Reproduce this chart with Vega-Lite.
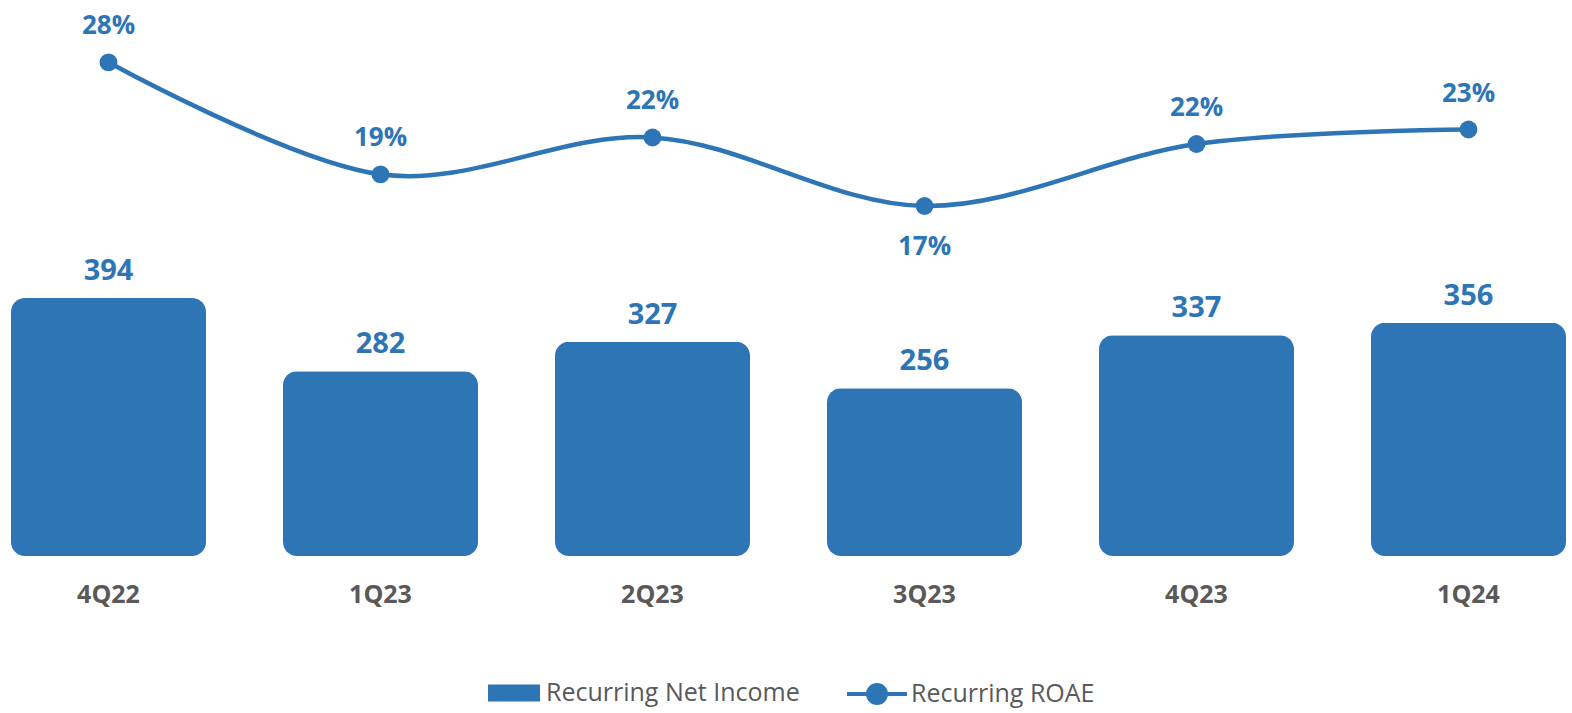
{
  "$schema": "https://vega.github.io/schema/vega-lite/v6.json",
  "width": 1572,
  "height": 556,
  "autosize": {"type": "none"},
  "padding": {"left": 0, "top": 0, "right": 0, "bottom": 157},
  "background": "white",
  "config": {
    "view": {"stroke": null},
    "font": "Open Sans"
  },
  "data": {
    "values": [
      {"quarter": "4Q22", "income": 394, "roae": 0.279},
      {"quarter": "1Q23", "income": 282, "roae": 0.194},
      {"quarter": "2Q23", "income": 327, "roae": 0.222},
      {"quarter": "3Q23", "income": 256, "roae": 0.170},
      {"quarter": "4Q23", "income": 337, "roae": 0.217},
      {"quarter": "1Q24", "income": 356, "roae": 0.228}
    ]
  },
  "encoding": {
    "x": {
      "field": "quarter",
      "type": "nominal",
      "sort": null,
      "scale": {"paddingInner": 0.283, "paddingOuter": 0.03125, "align": 0.647},
      "axis": {
        "title": null,
        "domain": false,
        "ticks": false,
        "labelAngle": 0,
        "labelFont": "Open Sans",
        "labelFontSize": 25,
        "labelFontWeight": "bold",
        "labelColor": "#595959",
        "labelPadding": 26
      }
    }
  },
  "layer": [
    {
      "mark": {"type": "bar", "cornerRadius": 14},
      "encoding": {
        "y": {
          "field": "income",
          "type": "quantitative",
          "scale": {"domain": [0, 849], "nice": false},
          "axis": null
        },
        "fill": {
          "datum": "Recurring Net Income",
          "type": "nominal",
          "scale": {"range": ["#2E75B6"]},
          "legend": {
            "title": null,
            "orient": "none",
            "legendX": 488,
            "legendY": 667,
            "padding": 0,
            "symbolType": "M-1,-0.33H1V0.33H-1Z",
            "symbolSize": 2704,
            "symbolStrokeWidth": 0,
            "labelFont": "Open Sans",
            "labelFontSize": 25,
            "labelColor": "#595959",
            "labelOffset": 6,
            "labelLimit": 0
          }
        }
      }
    },
    {
      "mark": {"type": "text", "font": "Open Sans", "fontSize": 29, "fontWeight": "bold", "color": "#2E75B6", "baseline": "bottom", "dy": -12},
      "encoding": {
        "y": {"field": "income", "type": "quantitative", "scale": {"domain": [0, 849], "nice": false}, "axis": null},
        "text": {"field": "income", "type": "quantitative"}
      }
    },
    {
      "mark": {"type": "line", "interpolate": "cardinal", "strokeWidth": 4.5},
      "encoding": {
        "y": {
          "field": "roae",
          "type": "quantitative",
          "scale": {"domain": [-0.0956, 0.3263], "nice": false, "zero": false},
          "axis": null
        },
        "stroke": {
          "datum": "Recurring ROAE",
          "type": "nominal",
          "scale": {"range": ["#2E75B6"]},
          "legend": {
            "title": null,
            "orient": "none",
            "legendX": 845,
            "legendY": 662,
            "padding": 0,
            "symbolType": "M-1,0H1M-0.3,0A0.3,0.3 0 1,0 0.3,0A0.3,0.3 0 1,0 -0.3,0",
            "symbolSize": 3600,
            "symbolStrokeWidth": 4,
            "symbolFillColor": "#2E75B6",
            "labelFont": "Open Sans",
            "labelFontSize": 25,
            "labelColor": "#595959",
            "labelOffset": 2,
            "labelLimit": 0
          }
        }
      }
    },
    {
      "mark": {"type": "point", "filled": true, "size": 320, "opacity": 1, "color": "#2E75B6"},
      "encoding": {
        "y": {"field": "roae", "type": "quantitative", "scale": {"domain": [-0.0956, 0.3263], "nice": false, "zero": false}, "axis": null}
      }
    },
    {
      "transform": [{"filter": "datum.quarter != '3Q23'"}],
      "mark": {"type": "text", "font": "Open Sans", "fontSize": 26, "fontWeight": "bold", "color": "#2E75B6", "baseline": "middle", "dy": -36},
      "encoding": {
        "y": {"field": "roae", "type": "quantitative", "scale": {"domain": [-0.0956, 0.3263], "nice": false, "zero": false}, "axis": null},
        "text": {"field": "roae", "type": "quantitative", "format": ".0%"}
      }
    },
    {
      "transform": [{"filter": "datum.quarter == '3Q23'"}],
      "mark": {"type": "text", "font": "Open Sans", "fontSize": 26, "fontWeight": "bold", "color": "#2E75B6", "baseline": "middle", "dy": 41},
      "encoding": {
        "y": {"field": "roae", "type": "quantitative", "scale": {"domain": [-0.0956, 0.3263], "nice": false, "zero": false}, "axis": null},
        "text": {"field": "roae", "type": "quantitative", "format": ".0%"}
      }
    }
  ],
  "resolve": {"scale": {"y": "independent", "fill": "independent", "stroke": "independent"}}
}
